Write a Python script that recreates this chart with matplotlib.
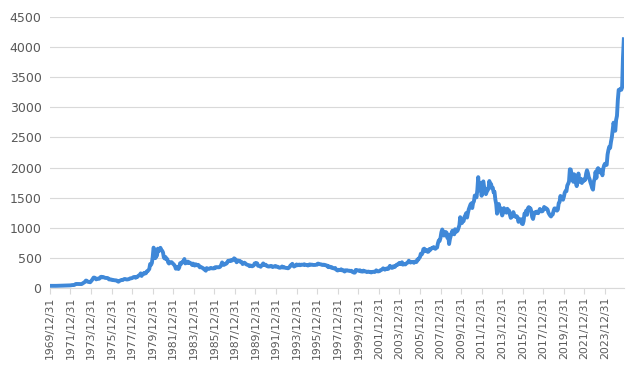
import numpy as np
import matplotlib
matplotlib.use("Agg")
import matplotlib.pyplot as plt

# month-end gold price (USD/oz), Dec 1969 .. Oct 2025
start_year = 1970  # Dec 1969 month-end == 1970.0
price_1969 = [35.2]
price_1970s = [
    35.0, 35.1, 35.9, 35.9, 35.5, 35.4, 35.4, 35.6, 36.2, 37.5, 37.4, 37.4,
    38.0, 38.7, 38.9, 39.5, 40.5, 40.1, 41.0, 42.7, 42.0, 42.5, 42.9, 43.5,
    45.8, 48.3, 48.3, 49.0, 54.6, 65.1, 66.6, 66.1, 65.5, 64.9, 62.9, 63.9,
    65.1, 74.2, 84.0, 90.5, 102, 123, 120, 106, 100, 100, 95, 112,
    129, 150, 172, 172, 163, 143, 154, 154, 151, 158, 181, 186,
    176, 182, 177, 170, 167, 166, 166, 160, 142, 143, 139, 140,
    131, 132, 129, 128, 126, 124, 112, 104, 116, 123, 130, 134,
    132, 142, 149, 148, 143, 141, 144, 146, 154, 161, 161, 165,
    175, 182, 181, 170, 183, 183, 200, 208, 218, 242, 200, 226,
    233, 251, 240, 245, 274, 278, 296, 315, 397, 383, 415, 512,
]
price_1980s = [
    670, 637, 495, 518, 540, 653, 614, 631, 667, 629, 619, 590,
    506, 489, 513, 482, 479, 426, 406, 425, 429, 428, 414, 400,
    384, 362, 320, 350, 325, 315, 342, 411, 397, 423, 438, 448,
    481, 408, 414, 430, 438, 413, 422, 414, 405, 382, 405, 382,
    372, 394, 388, 375, 384, 373, 343, 348, 343, 333, 329, 309,
    306, 287, 330, 322, 317, 317, 327, 333, 326, 325, 325, 327,
    345, 339, 345, 345, 343, 346, 357, 384, 424, 401, 383, 391,
    405, 405, 421, 452, 451, 447, 462, 453, 460, 466, 492, 484,
    458, 427, 457, 450, 451, 436, 438, 427, 397, 412, 420, 410,
    394, 387, 383, 377, 362, 373, 368, 360, 366, 376, 408, 401,
]
price_1990s = [
    415, 407, 368, 367, 363, 352, 372, 387, 408, 380, 384, 386,
    366, 362, 355, 358, 357, 367, 362, 347, 354, 357, 366, 353,
    354, 353, 341, 336, 337, 343, 357, 340, 349, 339, 334, 333,
    330, 327, 337, 354, 377, 378, 401, 371, 356, 369, 371, 391,
    377, 381, 389, 377, 387, 386, 384, 385, 394, 383, 383, 383,
    374, 376, 391, 389, 385, 387, 383, 382, 383, 383, 387, 387,
    405, 400, 396, 392, 391, 382, 385, 387, 379, 379, 371, 369,
    345, 358, 348, 340, 345, 334, 326, 325, 332, 311, 296, 290,
    302, 297, 301, 310, 293, 296, 288, 273, 294, 292, 294, 288,
    285, 287, 280, 286, 268, 261, 255, 255, 299, 299, 291, 290,
]
price_2000s = [
    283, 293, 276, 274, 272, 288, 276, 277, 273, 264, 270, 272,
    265, 267, 258, 263, 268, 270, 265, 273, 293, 279, 275, 277,
    282, 296, 301, 308, 326, 318, 304, 312, 324, 316, 317, 343,
    368, 348, 334, 336, 361, 346, 354, 375, 388, 386, 398, 417,
    400, 396, 427, 388, 393, 395, 391, 407, 415, 425, 453, 435,
    422, 434, 428, 435, 418, 437, 430, 433, 473, 470, 495, 513,
    569, 556, 582, 644, 653, 613, 633, 623, 599, 604, 646, 632,
    650, 665, 662, 679, 659, 650, 665, 673, 743, 789, 783, 834,
    923, 971, 933, 871, 885, 930, 918, 833, 884, 730, 814, 869,
    919, 952, 917, 891, 975, 934, 939, 955, 996, 1040, 1175, 1104,
]
price_2010s = [
    1078, 1109, 1113, 1180, 1207, 1244, 1169, 1246, 1307, 1347, 1386, 1405,
    1327, 1411, 1439, 1535, 1536, 1505, 1628, 1840, 1620, 1722, 1746, 1531,
    1744, 1770, 1662, 1651, 1558, 1598, 1622, 1648, 1776, 1719, 1726, 1657,
    1664, 1588, 1598, 1469, 1394, 1234, 1323, 1395, 1326, 1324, 1253, 1204,
    1244, 1326, 1291, 1288, 1250, 1315, 1285, 1285, 1217, 1164, 1176, 1199,
    1260, 1214, 1187, 1180, 1191, 1172, 1098, 1135, 1115, 1142, 1068, 1060,
    1111, 1234, 1237, 1285, 1215, 1321, 1342, 1309, 1322, 1273, 1178, 1146,
    1212, 1255, 1245, 1266, 1266, 1242, 1269, 1312, 1283, 1271, 1275, 1297,
    1345, 1318, 1325, 1316, 1300, 1250, 1224, 1202, 1187, 1215, 1221, 1279,
    1321, 1320, 1298, 1284, 1304, 1409, 1427, 1528, 1485, 1511, 1465, 1515,
]
price_2020s = [
    1582, 1609, 1608, 1702, 1730, 1768, 1971, 1967, 1887, 1880, 1763, 1888,
    1864, 1743, 1691, 1770, 1900, 1763, 1807, 1813, 1743, 1783, 1775, 1806,
    1797, 1900, 1954, 1911, 1842, 1807, 1754, 1712, 1660, 1633, 1769, 1812,
    1928, 1827, 1969, 1990, 1962, 1919, 1962, 1940, 1871, 1983, 2036, 2063,
    2040, 2045, 2214, 2290, 2345, 2326, 2427, 2503, 2630, 2744, 2657, 2610,
    2790, 2858, 3122, 3289, 3289, 3307, 3290, 3330, 3825, 4130,
]

price = np.array(price_1969 + price_1970s + price_1980s + price_1990s
                 + price_2000s + price_2010s + price_2020s, dtype=float)
t = start_year + np.arange(len(price)) / 12.0

tick_years = list(range(1970, 2025, 2))
tick_labels = [f"{y - 1}/12/31" for y in tick_years]

fig = plt.figure(figsize=(6.4, 3.85), dpi=100)
ax = fig.add_axes([0.078, 0.252, 0.897, 0.704])

ax.plot(t, price, color="#3f88d8", lw=2.8, solid_joinstyle="round")

ax.set_xlim(1970, 2025.85)
ax.set_ylim(0, 4500)
ax.set_yticks(range(0, 4501, 500))
ax.set_xticks(tick_years)
ax.set_xticklabels(tick_labels, rotation=90, fontsize=7.8, color="#595959")
ax.tick_params(axis="y", length=0, labelsize=9, labelcolor="#595959", pad=6)
ax.tick_params(axis="x", length=4, color="#d9d9d9", pad=2)

ax.grid(axis="y", color="#d9d9d9", lw=0.8)
ax.set_axisbelow(True)
for side in ["left", "right", "top"]:
    ax.spines[side].set_visible(False)
ax.spines["bottom"].set_color("#d9d9d9")

fig.savefig("out.png", dpi=100)
